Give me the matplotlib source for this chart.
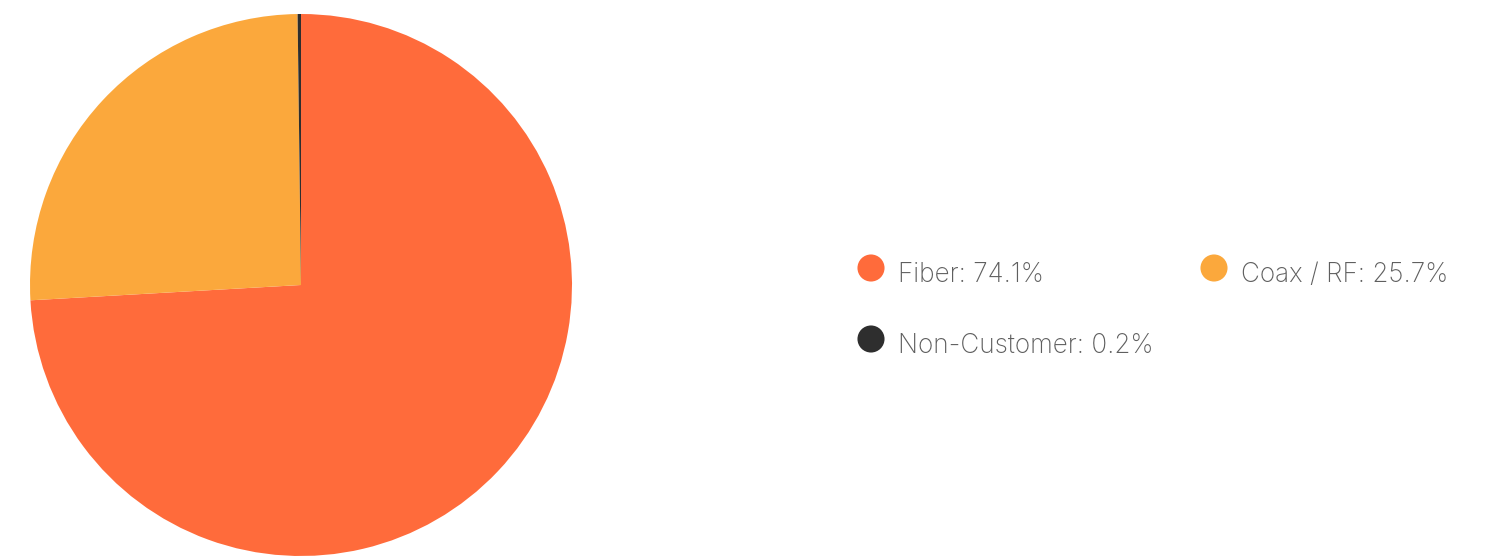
import matplotlib.pyplot as plt

plt.rcParams["font.family"] = ["Inter", "DejaVu Sans"]

labels = ["Fiber", "Coax / RF", "Non-Customer"]
shares = [74.1, 25.7, 0.2]
colors = ["#FF6B3B", "#FBA83C", "#2E2E2E"]

W, H = 1490, 558
fig = plt.figure(figsize=(W / 100, H / 100), dpi=100)

# pie: centre (301, 285) px from top-left, radius 271 px
cx, cy, r = 301, 285, 271
ax = fig.add_axes([(cx - r) / W, (H - cy - r) / H, 2 * r / W, 2 * r / H])
ax.pie(
    shares,
    colors=colors,
    startangle=90,
    counterclock=False,
    radius=1,
    wedgeprops={"linewidth": 0},
)
ax.set_xlim(-1, 1)
ax.set_ylim(-1, 1)
ax.set_axis_off()

# legend drawn on a pixel-space overlay
leg = fig.add_axes([0, 0, 1, 1], facecolor="none")
leg.set_xlim(0, W)
leg.set_ylim(H, 0)
leg.set_axis_off()

slots = [(871, 268), (1214, 268), (871, 339)]
for (x, y), label, share, color in zip(slots, labels, shares, colors):
    leg.scatter([x], [y], s=380, color=color, edgecolors="none")
    leg.text(x + 27, y + 14, f"{label}: {share}%", fontsize=18.8,
             fontweight="light", color="#5f5f5f", va="baseline", ha="left")

fig.savefig("out.png", dpi=100)
